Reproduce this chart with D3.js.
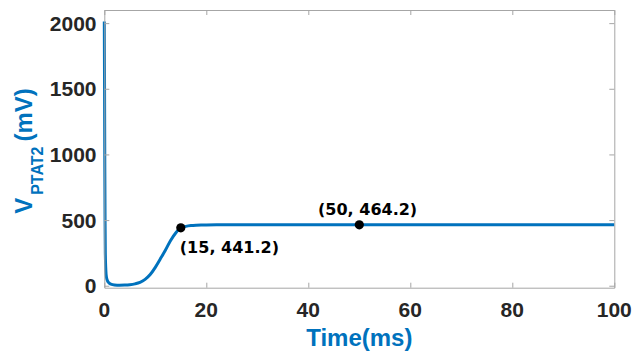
<!DOCTYPE html>
<html>
<head>
<meta charset="utf-8">
<script src="https://cdn.jsdelivr.net/npm/d3@7"></script>
<style>
  html, body { margin: 0; padding: 0; background: #fff; }
  svg { display: block; }
</style>
</head>
<body>
<div id="chart"></div>
<script>
// Transient response of V_PTAT2 after power-up
const timeMs = [0, 0.05, 0.1, 0.15, 0.2, 0.3, 0.4, 0.6, 0.9, 1.3, 2, 3, 4, 5, 6, 7, 8, 9, 10, 11, 12, 13, 14, 15, 16, 17, 18, 19, 20, 22, 25, 30, 40, 50, 60, 80, 100];
const vPtat2 = [2012, 1500, 900, 500, 250, 120, 70, 40, 22, 12, 6, 4, 5, 8, 14, 25, 48, 85, 140, 205, 272, 345, 402, 441.2, 452, 458, 461, 462.5, 463.3, 463.8, 464.0, 464.1, 464.2, 464.2, 464.2, 464.2, 464.2];

// Marked points on the trace
const markT = [15, 50];
const markV = [441.2, 464.2];

const xTicks = [0, 20, 40, 60, 80, 100];
const yTicks = [0, 500, 1000, 1500, 2000];

const W = 635, H = 351;
const plotLeft = 104.3, plotRight = 614.3, plotTop = 10, plotBottom = 287.7;

const svg = d3.select("#chart").append("svg")
  .attr("width", W).attr("height", H);

const x = d3.scaleLinear().domain([0, 100]).range([plotLeft, plotRight]);
const y = d3.scaleLinear().domain([-15, 2100]).range([plotBottom, plotTop]);

const axisGrey = "#a6a6a6";
const tickText = "#262626";
const blue = "#0072BD";
const tickFont = "'Liberation Sans', Arial, sans-serif";

// Curve
const line = d3.line()
  .x((d, i) => x(timeMs[i]))
  .y(d => y(d))
  .curve(d3.curveMonotoneX);

svg.append("path")
  .datum(vPtat2)
  .attr("d", line)
  .attr("fill", "none")
  .attr("stroke", blue)
  .attr("stroke-width", 3)
  .attr("stroke-linejoin", "round");

// Axes (box with inward ticks on all four sides)
const tickLen = 5;
const styleAxis = (g) => {
  g.select(".domain").attr("stroke", axisGrey);
  g.selectAll(".tick line").attr("stroke", axisGrey);
  g.selectAll("text").remove();
};

svg.append("g").attr("transform", `translate(0,${plotBottom})`)
  .call(d3.axisBottom(x).tickValues(xTicks).tickSizeInner(-tickLen).tickSizeOuter(0))
  .call(styleAxis);
svg.append("g").attr("transform", `translate(0,${plotTop})`)
  .call(d3.axisTop(x).tickValues(xTicks).tickSizeInner(-tickLen).tickSizeOuter(0))
  .call(styleAxis);
svg.append("g").attr("transform", `translate(${plotLeft},0)`)
  .call(d3.axisLeft(y).tickValues(yTicks).tickSizeInner(-tickLen).tickSizeOuter(0))
  .call(styleAxis);
svg.append("g").attr("transform", `translate(${plotRight},0)`)
  .call(d3.axisRight(y).tickValues(yTicks).tickSizeInner(-tickLen).tickSizeOuter(0))
  .call(styleAxis);

// Tick labels
svg.append("g").selectAll("text")
  .data(xTicks).join("text")
  .attr("x", d => x(d))
  .attr("y", 316.5)
  .attr("text-anchor", "middle")
  .attr("font-family", tickFont)
  .attr("font-weight", "bold")
  .attr("font-size", 21)
  .attr("fill", tickText)
  .text(d => d);

svg.append("g").selectAll("text")
  .data(yTicks).join("text")
  .attr("x", 96.5)
  .attr("y", d => y(d) + 7.5)
  .attr("text-anchor", "end")
  .attr("font-family", tickFont)
  .attr("font-weight", "bold")
  .attr("font-size", 21)
  .attr("fill", tickText)
  .text(d => d);

// Axis titles
svg.append("text")
  .attr("x", (plotLeft + plotRight) / 2)
  .attr("y", 346)
  .attr("text-anchor", "middle")
  .attr("font-family", tickFont)
  .attr("font-weight", "bold")
  .attr("font-size", 24)
  .attr("fill", blue)
  .text("Time(ms)");

const yTitle = svg.append("text")
  .attr("transform", "translate(31.7,151) rotate(-90)")
  .attr("text-anchor", "middle")
  .attr("font-family", tickFont)
  .attr("font-weight", "bold")
  .attr("font-size", 24)
  .attr("fill", blue);
yTitle.append("tspan").text("V");
yTitle.append("tspan").attr("font-size", 16).attr("dy", 11.5).attr("dx", 3).text("PTAT2");
yTitle.append("tspan").attr("dy", -11.5).attr("dx", 5).text("(mV)");

// Marked points and their value labels
const labelOffset = [[-1, 25.5, "start"], [8.3, -9.8, "middle"]];
markT.forEach((t, i) => {
  svg.append("circle")
    .attr("cx", x(t)).attr("cy", y(markV[i]))
    .attr("r", 4.6)
    .attr("fill", "#000");
  svg.append("text")
    .attr("x", x(t) + labelOffset[i][0])
    .attr("y", y(markV[i]) + labelOffset[i][1])
    .attr("text-anchor", labelOffset[i][2])
    .attr("font-family", "'DejaVu Sans', sans-serif")
    .attr("font-weight", "bold")
    .attr("font-size", 16)
    .attr("fill", "#000")
    .text(`(${t}, ${markV[i]})`);
});
</script>
</body>
</html>
